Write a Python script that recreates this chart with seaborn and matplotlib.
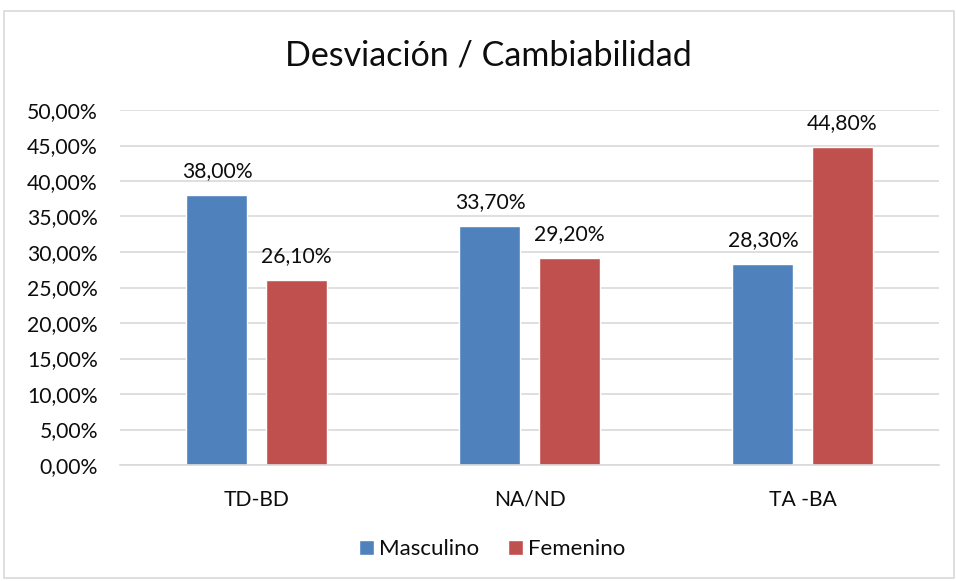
import matplotlib
matplotlib.use("Agg")
import matplotlib.pyplot as plt
import seaborn as sns
import pandas as pd
from matplotlib.patches import Rectangle

# === Datos ===
categorias = ["TD-BD", "NA/ND", "TA -BA"]
masculino = [38.0, 33.7, 28.3]
femenino = [26.1, 29.2, 44.8]
series = ["Masculino", "Femenino"]
colores = ["#4f81bd", "#c0504d"]

df = pd.DataFrame({
    "categoria": categorias * 2,
    "valor": masculino + femenino,
    "serie": [series[0]] * 3 + [series[1]] * 3,
})

sns.set_theme(style="white")
plt.rcParams["font.family"] = ["Lato", "DejaVu Sans"]

fig = plt.figure(figsize=(9.56, 5.81), dpi=100)
ax = fig.add_axes([120 / 956, 1 - 465 / 581, 819 / 956, 355 / 581])

sns.barplot(data=df, x="categoria", y="valor", hue="serie", palette=colores,
            width=0.579, gap=0.228, ax=ax, saturation=1, legend=True)

# === Etiquetas de datos ===
for cont in ax.containers:
    ax.bar_label(cont, labels=[f"{v:.2f}%".replace(".", ",") for v in cont.datavalues],
                 padding=10, fontsize=15.2, color="#0d0d0d")

ax.set_ylim(0, 50)
ax.set_yticks(range(0, 51, 5))
ax.set_yticklabels([f"{t:.2f}%".replace(".", ",") for t in range(0, 51, 5)])
ax.set_xlim(-0.5, 2.5)
ax.yaxis.grid(True, color="#d9d9d9", linewidth=1.2)
ax.set_axisbelow(True)
for s in ["top", "right", "left"]:
    ax.spines[s].set_visible(False)
ax.spines["bottom"].set_color("#d9d9d9")
ax.spines["bottom"].set_linewidth(1.2)
ax.tick_params(axis="both", length=0, labelsize=15.2, labelcolor="#0d0d0d")
ax.tick_params(axis="x", pad=18)
ax.tick_params(axis="y", pad=16)
ax.set_xlabel("")
ax.set_ylabel("")

fig.text(0.511, 0.905, "Desviación / Cambiabilidad", ha="center", va="center",
         fontsize=24.5, color="#0d0d0d")

ax.legend(loc="center", bbox_to_anchor=(0.515, 1 - 549 / 581),
          bbox_transform=fig.transFigure, ncol=2, frameon=False,
          fontsize=16, handlelength=0.65, handleheight=0.65, handletextpad=0.25,
          columnspacing=1.3, labelcolor="#0d0d0d")

fig.patches.append(Rectangle((4 / 956, 1 - 578 / 581), 950 / 956, 567 / 581,
                             transform=fig.transFigure, fill=False,
                             edgecolor="#d9d9d9", linewidth=1.2))

fig.savefig("out.png", dpi=100)
